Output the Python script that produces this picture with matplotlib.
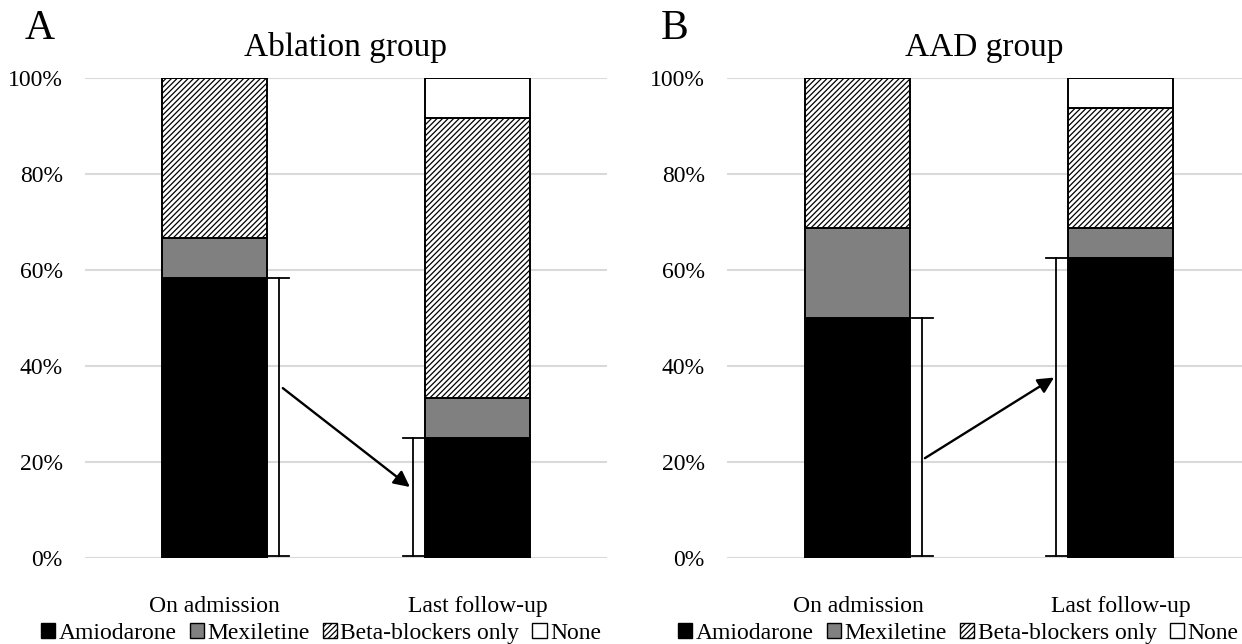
import matplotlib
matplotlib.use('Agg')
import matplotlib.pyplot as plt
from matplotlib.patches import Patch

plt.rcParams['font.family'] = ['Liberation Serif', 'DejaVu Serif']
plt.rcParams['hatch.linewidth'] = 0.9

# data (percent of patients)
categories = ['On admission', 'Last follow-up']
series = ['Amiodarone', 'Mexiletine', 'Beta-blockers only', 'None']

ablation_amio = [58.33, 25.0]
ablation_mex = [8.33, 8.33]
ablation_beta = [33.34, 58.34]
ablation_none = [0.0, 8.33]

aad_amio = [50.0, 62.5]
aad_mex = [18.75, 6.25]
aad_beta = [31.25, 25.0]
aad_none = [0.0, 6.25]

# bar styles
fills = ['black', '#808080', 'white', 'white']
hatches = [None, None, '//////', None]


def draw_panel(ax, stacks, title, xlim, arrow):
    x = range(len(categories))
    bottom = [0.0] * len(categories)
    for vals, fc, h in zip(stacks, fills, hatches):
        ax.bar(x, vals, 0.4, bottom=bottom, color=fc, edgecolor='black',
               linewidth=1.4, hatch=h, zorder=3)
        bottom = [b + v for b, v in zip(bottom, vals)]

    # brackets beside the amiodarone bars
    amio = stacks[0]
    for i, off in zip(x, [0.245, -0.245]):
        ax.plot([i + off, i + off], [0.5, amio[i]], color='black', lw=1.3, zorder=4)
        for yy in (0.5, amio[i]):
            ax.plot([i + off - 0.04, i + off + 0.04], [yy, yy],
                    color='black', lw=1.3, zorder=4)

    (x0, y0), (x1, y1) = arrow
    ax.annotate('', xy=(x1, y1), xytext=(x0, y0),
                arrowprops=dict(arrowstyle='-|>', mutation_scale=24, lw=1.7,
                                color='black', shrinkA=0, shrinkB=0), zorder=5)

    ax.set_xlim(*xlim)
    ax.set_ylim(0, 100)
    ax.set_xticks(list(x))
    ax.set_xticklabels(categories, fontsize=17)
    ax.set_yticks(range(0, 101, 20))
    ax.set_yticklabels([f'{v}%' for v in range(0, 101, 20)], fontsize=17)
    ax.tick_params(axis='x', length=0, pad=27)
    ax.tick_params(axis='y', length=0, pad=16)
    ax.grid(axis='y', color='#d9d9d9', lw=1.5, zorder=0)
    ax.set_axisbelow(True)
    for s in ax.spines.values():
        s.set_visible(False)
    ax.set_title(title, fontsize=24, pad=16)


fig = plt.figure(figsize=(12.42, 6.44), dpi=100)
ax1 = fig.add_axes([0.0684, 0.1335, 0.4203, 0.7453])
ax2 = fig.add_axes([0.5853, 0.1335, 0.4147, 0.7453])

draw_panel(ax1, [ablation_amio, ablation_mex, ablation_beta, ablation_none],
           'Ablation group', (-0.492, 1.492), ((0.26, 35.4), (0.743, 14.8)))
draw_panel(ax2, [aad_amio, aad_mex, aad_beta, aad_none],
           'AAD group', (-0.499, 1.463), ((0.255, 20.8), (0.747, 37.6)))

fig.text(0.032, 0.955, 'A', fontsize=30, ha='center', va='center')
fig.text(0.543, 0.955, 'B', fontsize=30, ha='center', va='center')

handles = [Patch(facecolor=fc, edgecolor='black', hatch=h, linewidth=1.0)
           for fc, h in zip(fills, hatches)]
for cx in (0.2585, 0.7715):
    fig.legend(handles, series, loc='center', bbox_to_anchor=(cx, 0.016),
               ncol=4, frameon=False, fontsize=17, handlelength=0.6,
               handleheight=0.6, handletextpad=0.15, columnspacing=0.55,
               borderaxespad=0)

fig.savefig('out.png', dpi=100)
